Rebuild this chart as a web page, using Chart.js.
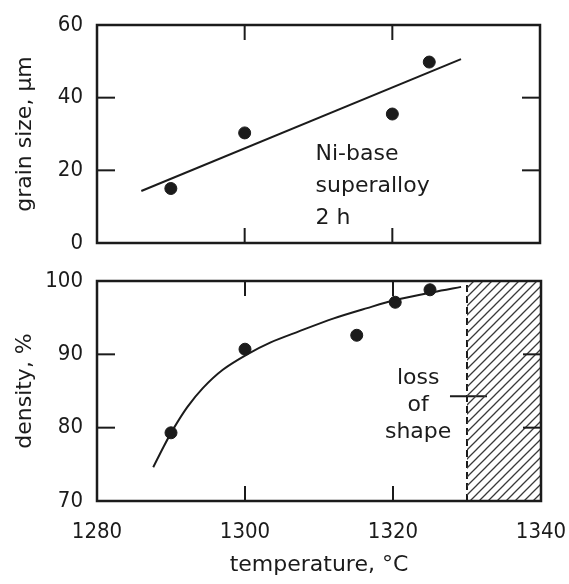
<!DOCTYPE html>
<html>
<head>
<meta charset="utf-8">
<script src="https://cdn.jsdelivr.net/npm/chart.js@4.4.0/dist/chart.umd.min.js"></script>
<style>
  html, body { margin: 0; padding: 0; background: #fff; }
  #wrap { position: relative; width: 569px; height: 584px; }
  #grainChart { position: absolute; left: 0; top: 0; }
  #densChart { position: absolute; left: 0; top: 260px; }
</style>
</head>
<body>
<div id="wrap">
  <canvas id="grainChart" width="569" height="260"></canvas>
  <canvas id="densChart" width="569" height="324"></canvas>
</div>
<script>
// grain size panel (top)
const grainTemps = [1290, 1300, 1320, 1325];
const grainSizes = [15, 30.3, 35.5, 49.8];
const grainFitTemps = [1286, 1329.3];
const grainFitSizes = [14.3, 50.6];
const grainTicks = [0, 20, 40, 60];

// density panel (bottom)
const densTemps = [1290, 1300, 1315.1, 1320.3, 1325];
const densValues = [79.3, 90.7, 92.6, 97.1, 98.8];
const densCurveTemps = [1287.6, 1289, 1290.3, 1292.2, 1294.3, 1297, 1300.3, 1303.4, 1307.2, 1312, 1316.5, 1320.3, 1325.5, 1329.2];
const densCurveValues = [74.6, 77.4, 79.8, 82.8, 85.4, 87.9, 90.0, 91.6, 93.1, 94.9, 96.3, 97.4, 98.5, 99.2];
const densTicks = [70, 80, 90, 100];

const shapeLossFrom = 1330;
const markTemps = [1327.7, 1332.7];
const markValues = [84.3, 84.3];
const tempTicks = [1280, 1300, 1320, 1340];

const ink = '#1b1b1b';
const textFamily = "'DejaVu Sans', sans-serif";
const numFamily = "'Liberation Sans Narrow', 'DejaVu Sans Condensed', sans-serif";
const textFont = { family: textFamily, size: 22 };
const numFont = { family: numFamily, size: 22 };

function pts(xs, ys) {
  return xs.map((x, i) => ({ x: x, y: ys[i] }));
}

// frame, inward ticks and the text notes
const frameTicks = {
  id: 'frameTicks',
  afterDatasetsDraw(chart, args, opts) {
    const ctx = chart.ctx;
    const a = chart.chartArea;
    const x = chart.scales.x, y = chart.scales.y;
    const line = (x1, y1, x2, y2) => { ctx.beginPath(); ctx.moveTo(x1, y1); ctx.lineTo(x2, y2); ctx.stroke(); };
    ctx.save();
    ctx.strokeStyle = ink;
    ctx.lineWidth = 2.5;
    ctx.strokeRect(a.left, a.top, a.right - a.left, a.bottom - a.top);
    ctx.lineWidth = 2;
    opts.xTicks.forEach(v => {
      const px = x.getPixelForValue(v);
      line(px, a.top, px, a.top + 15);
      line(px, a.bottom, px, a.bottom - 15);
    });
    opts.yTicks.forEach(v => {
      const py = y.getPixelForValue(v);
      line(a.left, py, a.left + 18, py);
      line(a.right, py, a.right - 18, py);
    });
    ctx.fillStyle = ink;
    ctx.font = '22px ' + textFamily;
    ctx.textBaseline = 'middle';
    opts.notes.forEach(n => {
      ctx.textAlign = n.align;
      const px = x.getPixelForValue(n.x);
      const py = y.getPixelForValue(n.y);
      n.lines.forEach((t, i) => ctx.fillText(t, px, py + i * n.step));
    });
    ctx.restore();
  }
};

// hatch for the loss-of-shape region
function hatch() {
  const c = document.createElement('canvas');
  c.width = 9; c.height = 9;
  const g = c.getContext('2d');
  g.strokeStyle = '#3a3a3a';
  g.lineWidth = 1.3;
  g.beginPath();
  g.moveTo(0, 9); g.lineTo(9, 0);
  g.moveTo(-1, 1); g.lineTo(1, -1);
  g.moveTo(8, 10); g.lineTo(10, 8);
  g.stroke();
  return g.createPattern(c, 'repeat');
}

function yAxis(min, max, ticks, title) {
  return {
    min: min, max: max,
    afterBuildTicks: s => { s.ticks = ticks.map(v => ({ value: v })); },
    grid: { display: false, drawTicks: false },
    border: { display: false },
    ticks: { padding: 14, color: ink, font: numFont },
    title: { display: true, text: title, color: ink, font: textFont, padding: { top: 12, bottom: 0 } },
    afterFit: s => { s.width = 97; s.paddingTop = 0; s.paddingBottom = 0; }
  };
}

new Chart(document.getElementById('grainChart'), {
  type: 'scatter',
  data: {
    datasets: [
      {
        data: pts(grainFitTemps, grainFitSizes),
        showLine: true, borderColor: ink, borderWidth: 2, pointRadius: 0
      },
      {
        data: pts(grainTemps, grainSizes),
        backgroundColor: ink, borderColor: ink, pointRadius: 6
      }
    ]
  },
  options: {
    responsive: false,
    devicePixelRatio: 1,
    animation: false,
    layout: { padding: { top: 25, right: 29, bottom: 17, left: 0 } },
    plugins: {
      legend: { display: false },
      tooltip: { enabled: false },
      frameTicks: {
        xTicks: [1300, 1320],
        yTicks: [20, 40],
        notes: [{ x: 1309.6, y: 24.5, lines: ['Ni-base', 'superalloy', '2 h'], step: 32, align: 'left' }]
      }
    },
    scales: {
      x: { type: 'linear', min: 1280, max: 1340, display: false },
      y: yAxis(0, 60, grainTicks, 'grain size, μm')
    }
  },
  plugins: [frameTicks]
});

new Chart(document.getElementById('densChart'), {
  type: 'scatter',
  data: {
    datasets: [
      {
        data: pts([shapeLossFrom, 1340], [100, 100]),
        showLine: true, borderWidth: 0, pointRadius: 0,
        backgroundColor: hatch(), fill: { value: 70 }
      },
      {
        data: pts([shapeLossFrom, shapeLossFrom], [70, 100]),
        showLine: true, borderColor: ink, borderWidth: 2, borderDash: [7, 4], pointRadius: 0
      },
      {
        data: pts(markTemps, markValues),
        showLine: true, borderColor: ink, borderWidth: 2, pointRadius: 0
      },
      {
        data: pts(densCurveTemps, densCurveValues),
        showLine: true, borderColor: ink, borderWidth: 2, pointRadius: 0,
        tension: 0.3
      },
      {
        data: pts(densTemps, densValues),
        backgroundColor: ink, borderColor: ink, pointRadius: 6
      }
    ]
  },
  options: {
    responsive: false,
    devicePixelRatio: 1,
    animation: false,
    layout: { padding: { top: 21, right: 28, bottom: 0, left: 0 } },
    plugins: {
      legend: { display: false },
      tooltip: { enabled: false },
      frameTicks: {
        xTicks: [1300, 1320],
        yTicks: [80, 90],
        notes: [{ x: 1323.4, y: 86.8, lines: ['loss', 'of', 'shape'], step: 27, align: 'center' }]
      }
    },
    scales: {
      x: {
        type: 'linear', min: 1280, max: 1340,
        afterBuildTicks: s => { s.ticks = tempTicks.map(v => ({ value: v })); },
        grid: { display: false, drawTicks: false },
        border: { display: false },
        ticks: { padding: 18, color: ink, font: numFont, autoSkip: false, maxRotation: 0, callback: v => String(v) },
        title: { display: true, text: 'temperature, °C', color: ink, font: textFont, padding: { top: 0, bottom: 6 } },
        afterFit: s => { s.height = 83; s.paddingLeft = 0; s.paddingRight = 0; }
      },
      y: yAxis(70, 100, densTicks, 'density, %')
    }
  },
  plugins: [frameTicks]
});
</script>
</body>
</html>
